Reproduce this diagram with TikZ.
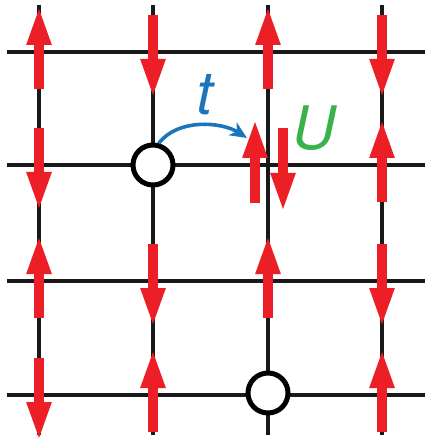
\documentclass[tikz,border=0pt]{standalone}
\usepackage{fontspec}
\setsansfont{TeX Gyre Heros}
\usetikzlibrary{arrows.meta, positioning}
\definecolor{spinred}{RGB}{236,30,38}
\definecolor{hopblue}{RGB}{27,117,188}
\definecolor{ugreen}{RGB}{57,178,74}
\tikzset{
  gridline/.style={line width=4pt, black!90},
  spin/.style={line width=10pt, spinred, -{Triangle[length=40pt,width=22pt]}},
  hole/.style={circle, draw, line width=5pt, fill=white, minimum size=40pt, inner sep=0pt},
  hop/.style={line width=3.6pt, hopblue, -{Stealth[length=17pt,width=15pt,inset=5pt]}},
  bigtext/.style={font=\sffamily\itshape\fontsize{60}{60}\selectfont, inner sep=0pt}
}
\begin{document}
\begin{tikzpicture}[x=1pt, y=-1pt]
  \useasboundingbox (0,0) rectangle (426,446);
  % lattice
  \foreach \y in {52,165,281,395}
    \draw[gridline] (7,\y) -- (425,\y);
  \foreach \x in {39,153,268,382}
    \draw[gridline] (\x,5) -- (\x,435);
  % spins: 1 = down, -1 = up
  \foreach \x/\y/\d in {39/52/-1, 153/52/1, 268/52/-1, 382/52/1,
                        39/165/1, 382/165/-1,
                        39/281/-1, 153/281/1, 268/281/-1, 382/281/1,
                        39/395/1, 153/395/-1, 382/395/-1}
    \draw[spin] (\x,{\y-37*(\d)}) -- (\x,{\y+47*(\d)});
  % doubly occupied site
  \draw[spin] (255,203) -- (255,118);
  \draw[spin] (283,128) -- (283,213);
  % holes
  \node[hole] (ha) at (153,165) {};
  \node[hole] (hb) at (268,393) {};
  % hopping
  \coordinate (hopend) at (247,138);
  \draw[hop] (ha.75) .. controls (178,118) and (222,122) .. (hopend);
  \node[bigtext, hopblue] (tlabel) at (205,95) {t};
  \node[bigtext, ugreen] (ulabel) at (314,128) {U};
\end{tikzpicture}
\end{document}
